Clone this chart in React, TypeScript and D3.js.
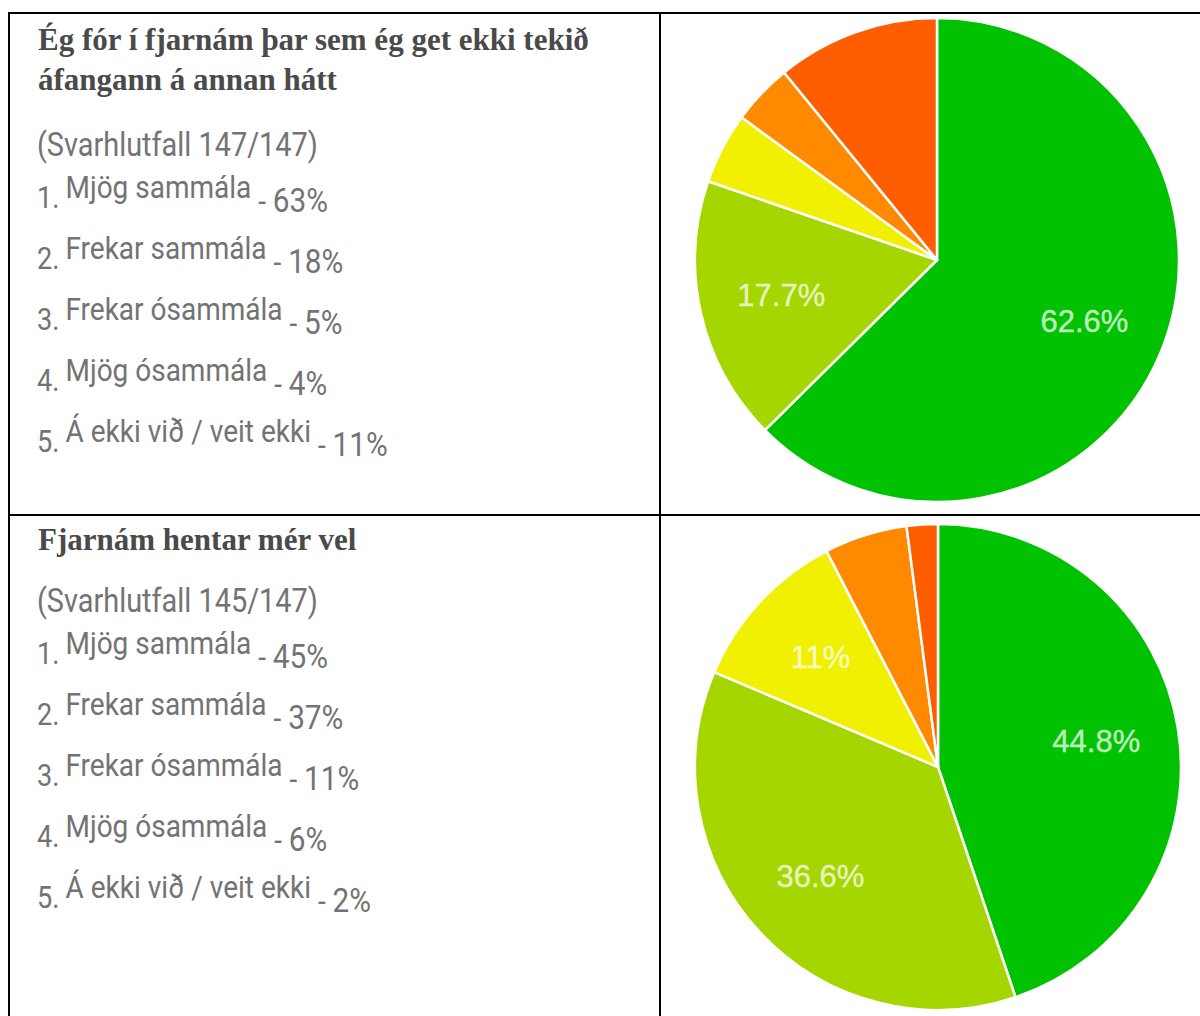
import React from 'react';
import * as d3 from 'd3';

const categories = ['Mjög sammála', 'Frekar sammála', 'Frekar ósammála', 'Mjög ósammála', 'Á ekki við / veit ekki'];
const sliceColors = ['#00c200', '#a6d600', '#f0f000', '#ff8a00', '#ff5e00'];

const q1Title = ['Ég fór í fjarnám þar sem ég get ekki tekið', 'áfangann á annan hátt'];
const q1Response = '(Svarhlutfall 147/147)';
const q1Counts = [92, 26, 7, 6, 16];
const q1ListPercents = ['63%', '18%', '5%', '4%', '11%'];
const q1LabelShown = [true, true, false, false, false];

const q2Title = ['Fjarnám hentar mér vel'];
const q2Response = '(Svarhlutfall 145/147)';
const q2Counts = [65, 53, 16, 8, 3];
const q2ListPercents = ['45%', '37%', '11%', '6%', '2%'];
const q2LabelShown = [true, true, true, false, false];

const W = 1200;
const H = 1016;
const fmt = d3.format('.3~p');

type Block = {
  title: string[];
  response: string;
  counts: number[];
  listPercents: string[];
  labelShown: boolean[];
  titleY: number;
  responseY: number;
  itemY0: number;
  cx: number;
  cy: number;
  r: number;
};

const blocks: Block[] = [
  { title: q1Title, response: q1Response, counts: q1Counts, listPercents: q1ListPercents, labelShown: q1LabelShown, titleY: 50, responseY: 156, itemY0: 208, cx: 937, cy: 260, r: 242 },
  { title: q2Title, response: q2Response, counts: q2Counts, listPercents: q2ListPercents, labelShown: q2LabelShown, titleY: 550, responseY: 612, itemY0: 664, cx: 938, cy: 767, r: 243 },
];

const ITEM_STEP = 61;
const TEXT_GRAY = '#737373';
const TITLE_GRAY = '#4a4a4a';
const SX = 0.875;

function PieChart({ b }: { b: Block }) {
  const total = d3.sum(b.counts);
  const pie = d3.pie<number>().sort(null).value((d) => d);
  const arcs = pie(b.counts);
  const arc = d3.arc<d3.PieArcDatum<number>>().innerRadius(0).outerRadius(b.r);
  const labelArc = d3.arc<d3.PieArcDatum<number>>().innerRadius(b.r * 0.66).outerRadius(b.r * 0.66);
  return (
    <g transform={`translate(${b.cx},${b.cy})`}>
      {arcs.map((a, i) => (
        <path key={i} d={arc(a) || ''} fill={sliceColors[i]} stroke="#ffffff" strokeWidth={2.5} strokeLinejoin="round" />
      ))}
      {arcs.map((a, i) => {
        if (!b.labelShown[i]) return null;
        const frac = a.data / total;
        const [x, y] = labelArc.centroid(a);
        return (
          <text key={`l${i}`} x={x} y={y} textAnchor="middle" dominantBaseline="central"
            fontFamily="'Liberation Sans', Arial, sans-serif" fontSize={31} fill="#ffffff" fillOpacity={0.72}
            stroke="#ffffff" strokeOpacity={0.35} strokeWidth={0.8}>
            {fmt(frac)}
          </text>
        );
      })}
    </g>
  );
}

function TextBlock({ b }: { b: Block }) {
  return (
    <g>
      {b.title.map((t, i) => (
        <text key={i} x={38} y={b.titleY + i * 40} fontFamily="'Liberation Serif', 'Times New Roman', serif"
          fontWeight="bold" fontSize={31} fill={TITLE_GRAY}>
          {t}
        </text>
      ))}
      <g transform={`scale(${SX},1)`}>
        <text x={37 / SX} y={b.responseY} fontFamily="Roboto, sans-serif" fontWeight={400} fontSize={33} fill={TEXT_GRAY}>
          {b.response}
        </text>
        {categories.map((c, i) => (
          <text key={c} x={37 / SX} y={b.itemY0 + i * ITEM_STEP} fontFamily="Roboto, sans-serif" fontWeight={400}
            fontSize={31} fill={TEXT_GRAY} xmlSpace="preserve">
            <tspan>{`${i + 1}.`}</tspan>
            <tspan dx={7} dy={-10} fontSize={32}>{c}</tspan>
            <tspan dy={14} fontSize={32}>{' - '}</tspan>
            <tspan fontSize={34}>{b.listPercents[i]}</tspan>
          </text>
        ))}
      </g>
    </g>
  );
}

export default function App() {
  return (
    <svg width={W} height={H} viewBox={`0 0 ${W} ${H}`}
      style={{ position: 'absolute', left: 0, top: 0, background: '#ffffff' }}>
      <rect x={0} y={0} width={W} height={H} fill="#ffffff" />
      {blocks.map((b, i) => (
        <g key={i}>
          <TextBlock b={b} />
          <PieChart b={b} />
        </g>
      ))}
      <line x1={8} x2={W} y1={13} y2={13} stroke="#000" strokeWidth={2} />
      <line x1={8} x2={W} y1={515} y2={515} stroke="#000" strokeWidth={2} />
      <line x1={9} x2={9} y1={12} y2={H} stroke="#000" strokeWidth={2} />
      <line x1={660} x2={660} y1={12} y2={H} stroke="#000" strokeWidth={2} />
    </svg>
  );
}
